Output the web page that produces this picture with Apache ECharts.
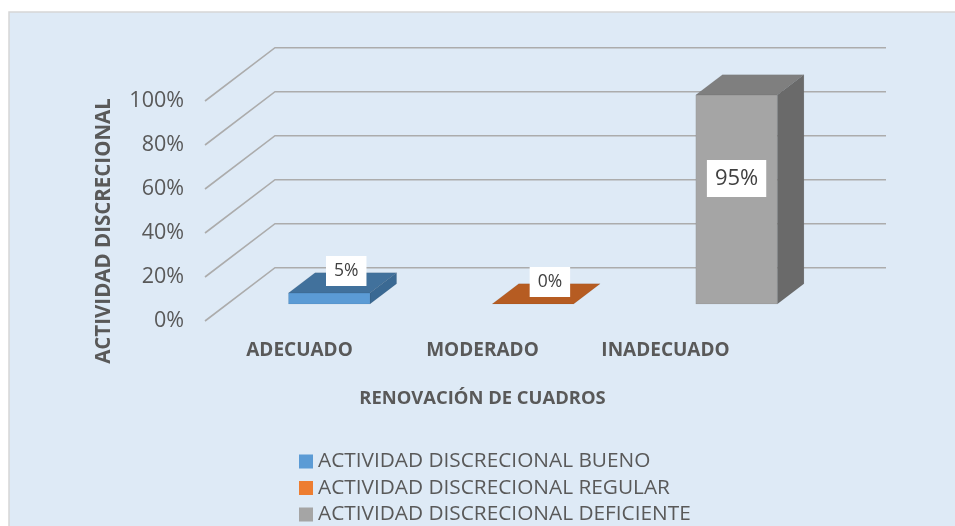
<!DOCTYPE html>
<html>
<head>
<meta charset="utf-8">
<script src="https://cdn.jsdelivr.net/npm/echarts@6/dist/echarts.min.js"></script>
<style>
html,body{margin:0;padding:0;background:#fff;}
#c{width:955px;height:526px;}
</style>
</head>
<body>
<div id="c"></div>
<script>
// ---- data ----
const categories = ['ADECUADO', 'MODERADO', 'INADECUADO'];
const seriesNames = ['ACTIVIDAD DISCRECIONAL BUENO', 'ACTIVIDAD DISCRECIONAL REGULAR', 'ACTIVIDAD DISCRECIONAL DEFICIENTE'];
const buenoValues = [0.05, null, null];
const regularValues = [null, 0, null];
const deficienteValues = [null, null, 0.95];
const yTicks = [0, 0.2, 0.4, 0.6, 0.8, 1];
const yAxisTitle = 'ACTIVIDAD DISCRECIONAL';
const xAxisTitle = 'RENOVACIÓN DE CUADROS';

// ---- styling ----
const FONT = '"Open Sans", sans-serif';
const TXT = '#595959';
const DEPTH = [70, -53.3];      // floor depth vector
const T0 = 0.32, T1 = 0.70;     // bar depth range
const palettes = [
  { front: '#5B9BD5', side: '#3A6993', top: '#41719C' },
  { front: '#ED7D31', side: '#A9561F', top: '#B65C22' },
  { front: '#A5A5A5', side: '#6A6A6A', top: '#7F7F7F' }
];
const allValues = [buenoValues, regularValues, deficienteValues];

function barRender(pal) {
  return function (params, api) {
    const ci = api.value(0), v = api.value(1);
    const base = api.coord([ci, 0]);
    const top = api.coord([ci, v]);
    const band = api.size([1, 0])[0];
    const w = band * 0.4;
    const fx0 = base[0] - w / 2 + DEPTH[0] * T0;
    const fx1 = fx0 + w;
    const fyB = base[1] + DEPTH[1] * T0;
    const fyT = top[1] + DEPTH[1] * T0;
    const dx = DEPTH[0] * (T1 - T0), dy = DEPTH[1] * (T1 - T0);
    const children = [];
    if (fyB - fyT > 0.5) {
      children.push({ type: 'polygon', shape: { points: [[fx1, fyT], [fx1, fyB], [fx1 + dx, fyB + dy], [fx1 + dx, fyT + dy]] },
        style: { fill: pal.side, stroke: 'rgba(0,0,0,0.08)', lineWidth: 0.8 } });
      children.push({ type: 'rect', shape: { x: fx0, y: fyT, width: w, height: fyB - fyT },
        style: { fill: pal.front, stroke: 'rgba(0,0,0,0.08)', lineWidth: 0.8 } });
    }
    children.push({ type: 'polygon', shape: { points: [[fx0, fyT], [fx1, fyT], [fx1 + dx, fyT + dy], [fx0 + dx, fyT + dy]] },
      style: { fill: pal.top, stroke: 'rgba(0,0,0,0.08)', lineWidth: 0.8 } });
    // data label
    const txt = Math.round(v * 100) + '%';
    let lx, ly, fs, pad;
    if (v > 0.5) {
      lx = (fx0 + fx1) / 2; ly = fyT + (fyB - fyT) * 0.4; fs = 22; pad = [8, 8, 7, 8];
    } else {
      lx = (fx0 + fx1) / 2 + 17; ly = fyT - 22; fs = 17.5; pad = [7, 8, 5, 8];
    }
    children.push({ type: 'text', z2: 10, style: {
      text: txt, x: lx, y: ly, align: 'center', verticalAlign: 'middle',
      fill: '#404040', fontSize: fs, fontFamily: FONT,
      backgroundColor: '#fff', padding: pad
    } });
    return { type: 'group', children: children };
  };
}

function gridRender(params, api) {
  const cs = params.coordSys;
  const v = api.value(0);
  const y = api.coord([0, v])[1];
  const x0 = cs.x, x1 = cs.x + cs.width;
  return { type: 'polyline', shape: { points: [[x0, y], [x0 + DEPTH[0], y + DEPTH[1]], [x1 + DEPTH[0], y + DEPTH[1]]] },
    style: { stroke: '#ACACAC', lineWidth: 1.6, fill: null } };
}

const series = [{
  type: 'custom', name: '__grid', xAxisIndex: 0, yAxisIndex: 0, silent: true, z: 1,
  renderItem: gridRender, data: yTicks.map(t => [t]), encode: { y: 0 }
}];
allValues.forEach((arr, si) => {
  const data = [];
  arr.forEach((v, i) => { if (v !== null) data.push([i, v]); });
  series.push({
    type: 'custom', name: seriesNames[si], xAxisIndex: 0, yAxisIndex: 0, z: 3,
    itemStyle: { color: palettes[si].front },
    renderItem: barRender(palettes[si]), data: data, encode: { x: 0, y: 1 }
  });
});

const chart = echarts.init(document.getElementById('c'), null, { renderer: 'canvas' });
chart.setOption({
  backgroundColor: '#ffffff',
  animation: false,
  graphic: [
    { type: 'rect', z: -10, shape: { x: 9, y: 12, width: 960, height: 530 },
      style: { fill: '#DEEAF6', stroke: '#D6D6D6', lineWidth: 1.5 } },
    { type: 'text', z: 5, x: 104, y: 231, rotation: Math.PI / 2,
      style: { text: yAxisTitle, align: 'center', verticalAlign: 'middle', fill: TXT,
        fontFamily: FONT, fontWeight: 'bold', fontSize: 20.5 } }
  ],
  grid: [
    { left: 205, top: 101, width: 611, height: 220 },
    { left: 208, top: 101, width: 549, height: 220 }
  ],
  xAxis: [
    { type: 'category', gridIndex: 0, data: categories, axisLine: { show: false }, axisTick: { show: false }, axisLabel: { show: false }, splitLine: { show: false } },
    { type: 'category', gridIndex: 1, data: categories, axisLine: { show: false }, axisTick: { show: false }, splitLine: { show: false },
      axisLabel: { color: TXT, fontFamily: FONT, fontWeight: 'bold', fontSize: 19, margin: 20 },
      name: xAxisTitle, nameLocation: 'middle', nameGap: 69,
      nameTextStyle: { color: TXT, fontFamily: FONT, fontWeight: 'bold', fontSize: 18.4 } }
  ],
  yAxis: [
    { type: 'value', gridIndex: 0, min: 0, max: 1, interval: 0.2,
      axisLine: { show: false }, axisTick: { show: false }, splitLine: { show: false },
      axisLabel: { color: TXT, fontFamily: FONT, fontSize: 21.5, margin: 21, formatter: v => Math.round(v * 100) + '%' } },
    { type: 'value', gridIndex: 1, min: 0, max: 1, show: false }
  ],
  legend: {
    orient: 'vertical', left: 299, top: 451, height: 120, padding: 0,
    itemWidth: 14, itemHeight: 14, itemGap: 5.5,
    icon: 'rect', data: seriesNames,
    textStyle: { color: TXT, fontFamily: FONT, fontSize: 20.8, lineHeight: 20 }
  },
  series: series
});
</script>
</body>
</html>
